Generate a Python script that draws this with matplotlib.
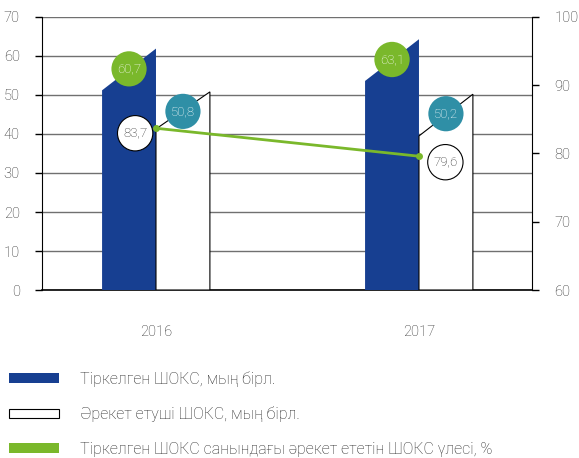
import matplotlib
matplotlib.use("Agg")
import matplotlib.pyplot as plt
from matplotlib.patches import Patch

plt.rcParams["font.family"] = ["Roboto", "DejaVu Sans"]
plt.rcParams["font.weight"] = "light"

years = ["2016", "2017"]
registered = [60.7, 63.1]     # Тіркелген ШОКС, мың бірл.
active = [50.8, 50.2]         # Әрекет етуші ШОКС, мың бірл.
share = [83.7, 79.6]          # үлесі, %
left_ticks = [0, 10, 20, 30, 40, 50, 60, 70]
right_ticks = [60, 70, 80, 90, 100]

legend_labels = [
    "Тіркелген ШОКС, мың бірл.",
    "Әрекет етуші ШОКС, мың бірл.",
    "Тіркелген ШОКС санындағы әрекет ететін ШОКС үлесі, %",
]

BLUE = "#173f91"
GREEN = "#7ab82b"
TEAL = "#2f8fa6"
GRID = "#707070"
TXT = "#2a2a2a"

fig = plt.figure(figsize=(5.79, 4.58), dpi=100)
ax = fig.add_axes([0.0725, 0.3668, 0.8463, 0.5961])
ax2 = ax.twinx()

w = 0.205
x = list(range(len(years)))

for i, xc in enumerate(x):
    # синий столбец со скошенным верхом
    v = registered[i]
    ax.fill([xc - w, xc, xc, xc - w], [0, 0, v + 1.2, v - 9.5],
            color=BLUE, lw=0, zorder=3)
    # белый столбец со скошенным верхом
    a = active[i]
    ax.fill([xc, xc + w, xc + w, xc], [0, 0, a, a - 9.5 - 1.2 * i],
            facecolor="white", edgecolor="black", lw=0.8, zorder=3)

    ax.annotate(f"{v:.1f}".replace(".", ","), (xc - w / 2, v - 4),
                ha="center", va="center", fontsize=9.5, color="white", zorder=6,
                bbox=dict(boxstyle="circle,pad=0.42", fc=GREEN, ec="none"))
    ax.annotate(f"{a:.1f}".replace(".", ","), (xc + w / 2, a - 5),
                ha="center", va="center", fontsize=9.5, color="white", zorder=6,
                bbox=dict(boxstyle="circle,pad=0.42", fc=TEAL, ec="none"))

ax.set_xlim(-0.4335, 1.4297)
ax.set_ylim(0, 70)
ax.set_yticks(left_ticks)
ax.set_xticks(x)
ax.set_xticklabels(years)
ax.tick_params(axis="x", length=0, pad=25, labelsize=10.5, labelcolor=TXT)
ax.tick_params(axis="y", length=5, width=1, direction="out", labelsize=10.5,
               labelcolor=TXT, pad=11)
ax.yaxis.grid(True, color=GRID, lw=1, zorder=0)
ax.set_axisbelow(True)
ax.spines["top"].set_visible(False)
ax.spines["right"].set_visible(False)
ax.spines["bottom"].set_linewidth(1.2)

ax2.plot(x, share, color=GREEN, lw=2, marker="o", markersize=4, zorder=5)
ax2.set_ylim(60, 100)
ax2.set_yticks(right_ticks)
ax2.tick_params(axis="y", length=5, width=1, direction="out", labelsize=10.5,
                labelcolor=TXT, pad=11)
for s in ["top", "left", "bottom"]:
    ax2.spines[s].set_visible(False)

offsets = [(-15, -3.6), (19, -4.3)]
for i, xc in enumerate(x):
    ax2.annotate(f"{share[i]:.1f}".replace(".", ","), (xc, share[i]),
                 xytext=offsets[i], textcoords="offset points",
                 ha="center", va="center", fontsize=9.5, color=TXT, zorder=7,
                 bbox=dict(boxstyle="circle,pad=0.42", fc="white", ec="black", lw=0.8))

handles = [
    Patch(facecolor=BLUE, edgecolor="none"),
    Patch(facecolor="white", edgecolor="black", lw=0.8),
    Patch(facecolor=GREEN, edgecolor="none"),
]
fig.legend(handles, legend_labels, loc="upper left", bbox_to_anchor=(-0.009, 0.222),
           frameon=False, fontsize=11.5, handlelength=3.15, handleheight=0.5,
           labelspacing=1.22, handletextpad=1.3, labelcolor=TXT)

fig.savefig("out.png", dpi=100)
